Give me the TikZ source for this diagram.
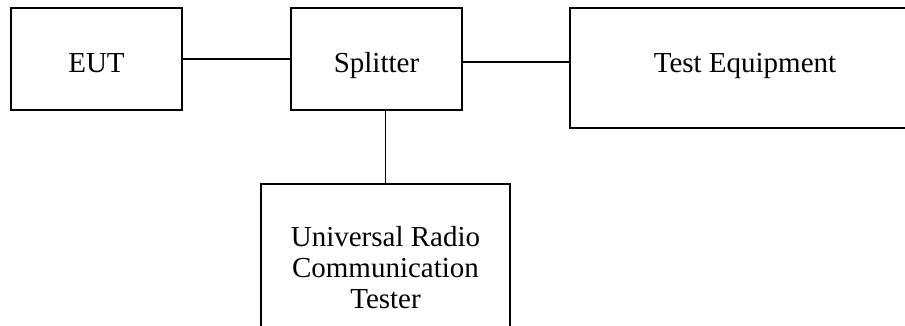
\documentclass[tikz,border=0pt]{standalone}
\usepackage{fontspec}
\setmainfont{Liberation Serif}
\begin{document}
\begin{tikzpicture}[x=1pt,y=-1pt,
  blk/.style={draw=black,line width=1.4pt,rectangle,inner sep=0pt,align=center,
    font=\fontsize{29}{31}\selectfont},
  wire/.style={draw=black,line width=1.4pt}]
\useasboundingbox (0,0) rectangle (905,326);
\clip (0,0) rectangle (905,326);
\node[blk,minimum width=171pt,minimum height=102pt,text height=28pt,text depth=0pt] (eut) at (96.5,59) {EUT};
\node[blk,minimum width=171pt,minimum height=102pt,text height=28pt,text depth=0pt] (spl) at (376.5,59) {Splitter};
\node[blk,minimum width=350pt,minimum height=120pt,text height=20pt,text depth=10pt] (te) at (745,68) {Test Equipment};
\node[blk,minimum width=249pt,minimum height=168pt] (urct) at (385.5,268) {Universal Radio\\Communication\\Tester};
\draw[wire] (eut.east) -- (spl.west);
\draw[wire] ([yshift=-3pt]spl.east) -- ([yshift=-3pt]spl.east -| te.west);
\draw[wire] (urct.north |- spl.south) -- (urct.north);
\end{tikzpicture}
\end{document}
